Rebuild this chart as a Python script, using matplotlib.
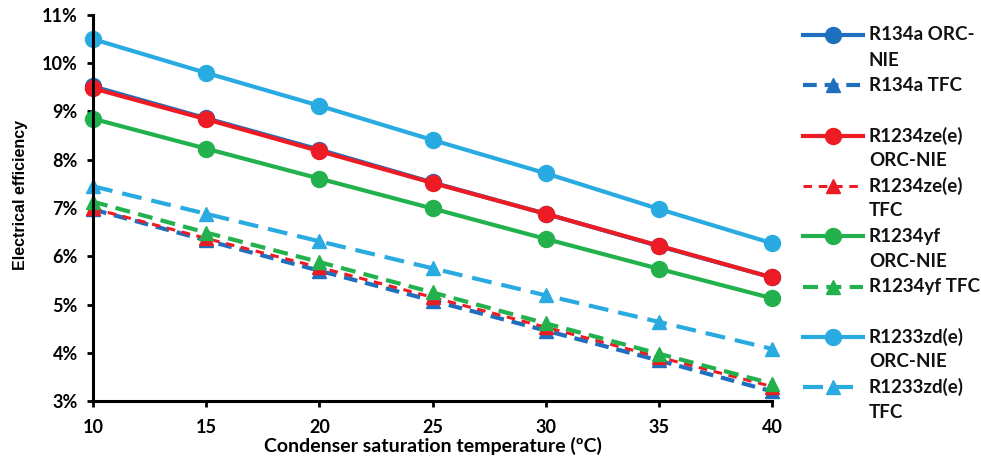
import matplotlib
matplotlib.use("Agg")
import matplotlib.pyplot as plt
from matplotlib.ticker import FuncFormatter, FixedLocator

plt.rcParams['font.family'] = ['Lato', 'DejaVu Sans']
plt.rcParams['font.weight'] = 'bold'

temps = [10, 15, 20, 25, 30, 35, 40]

r134a_orc = [9.52, 8.86, 8.21, 7.53, 6.88, 6.21, 5.56]
r134a_tfc = [6.97, 6.33, 5.70, 5.08, 4.46, 3.84, 3.20]
r1234ze_orc = [9.48, 8.84, 8.18, 7.52, 6.88, 6.22, 5.56]
r1234ze_tfc = [6.99, 6.37, 5.77, 5.15, 4.53, 3.91, 3.30]
r1234yf_orc = [8.85, 8.23, 7.61, 6.99, 6.36, 5.74, 5.13]
r1234yf_tfc = [7.13, 6.49, 5.88, 5.25, 4.61, 3.98, 3.36]
r1233zd_orc = [10.50, 9.80, 9.12, 8.41, 7.72, 6.98, 6.27]
r1233zd_tfc = [7.45, 6.88, 6.31, 5.75, 5.19, 4.64, 4.08]

yticks = [3, 4, 5, 6, 7, 8, 9, 10, 11]
xticks = [10, 15, 20, 25, 30, 35, 40]

c134 = '#1F6FBF'
cze = '#ED1C24'
cyf = '#22B14C'
czd = '#29ABE2'

series = [
    (r134a_orc, c134, '-', 'o', ['R134a ORC-', 'NIE'], None, 3.0, 11.5),
    (r134a_tfc, c134, '--', '^', ['R134a TFC'], (3.3, 1.9), 3.0, 10),
    (r1234ze_orc, cze, '-', 'o', ['R1234ze(e)', 'ORC-NIE'], None, 3.0, 11.5),
    (r1234ze_tfc, cze, '--', '^', ['R1234ze(e)', 'TFC'], (2.8, 2.2), 2.2, 10),
    (r1234yf_orc, cyf, '-', 'o', ['R1234yf', 'ORC-NIE'], None, 3.0, 11.5),
    (r1234yf_tfc, cyf, '--', '^', ['R1234yf TFC'], (3.6, 2.0), 3.0, 10),
    (r1233zd_orc, czd, '-', 'o', ['R1233zd(e)', 'ORC-NIE'], None, 3.0, 11.5),
    (r1233zd_tfc, czd, '--', '^', ['R1233zd(e)', 'TFC'], (4.8, 2.4), 3.0, 10),
]

W, H = 981, 461
fig = plt.figure(figsize=(W / 100, H / 100), dpi=100)
ax = fig.add_axes([93 / W, 1 - 401 / H, (772 - 93) / W, (401 - 15) / H])

for vals, col, ls, mk, lab, dash, lw, ms in series:
    kw = {}
    if dash is not None:
        kw['dashes'] = dash
    ax.plot(temps, vals, color=col, linestyle=ls, marker=mk, markersize=ms,
            linewidth=lw, clip_on=False, **kw)

ax.set_xlim(10, 40)
ax.set_ylim(3, 11)
ax.xaxis.set_major_locator(FixedLocator(xticks))
ax.yaxis.set_major_locator(FixedLocator(yticks))
ax.yaxis.set_major_formatter(FuncFormatter(lambda v, p: f"{v:.0f}%"))
for s in ['top', 'right']:
    ax.spines[s].set_visible(False)
for s in ['left', 'bottom']:
    ax.spines[s].set_linewidth(2.2)
    ax.spines[s].set_color('black')
ax.tick_params(axis='both', direction='out', length=4, width=2, labelsize=13,
               colors='black')
ax.tick_params(axis='x', pad=9)
ax.tick_params(axis='y', pad=7)
for t in ax.get_xticklabels() + ax.get_yticklabels():
    t.set_fontweight('bold')
ax.set_xlabel('Condenser saturation temperature (\u00baC)', fontsize=14,
              fontweight='bold')
ax.xaxis.set_label_coords(0.5, -0.092)
ax.set_ylabel('Electrical efficiency', fontsize=11.5, fontweight='bold',
              family=['Liberation Sans', 'DejaVu Sans'])
ax.yaxis.set_label_coords(-0.096, 0.534)

# manual legend
lax = fig.add_axes([795 / W, 0, (W - 795) / W, 1])
lax.set_xlim(795, W)
lax.set_ylim(H, 0)
lax.axis('off')
for i, (vals, col, ls, mk, lab, dash, lw, ms) in enumerate(series):
    y = 35 + 50.3 * i
    kw = {}
    if dash is not None:
        kw['dashes'] = dash
    lax.plot([803, 863], [y, y], color=col, linestyle=ls, linewidth=lw, **kw)
    lax.plot([833], [y], color=col, marker=mk, markersize=ms, linestyle='none')
    for k, line in enumerate(lab):
        lax.text(869, y + 25 * k, line, fontsize=13.5, fontweight='bold',
                 va='center', ha='left', color='#111111')

fig.savefig('out.png', dpi=100, facecolor='white')
